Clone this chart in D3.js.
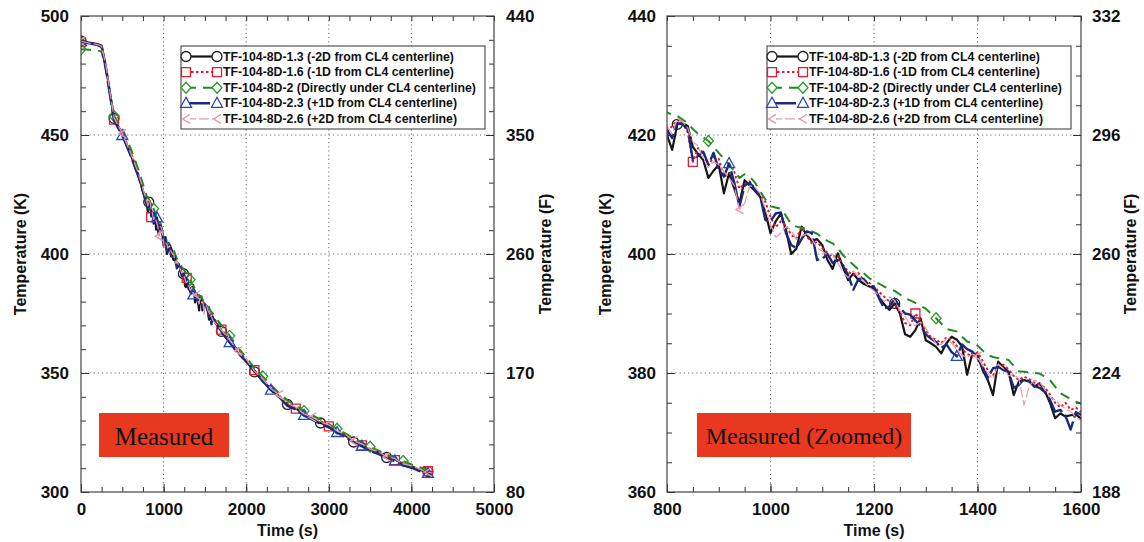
<!DOCTYPE html>
<html><head><meta charset="utf-8">
<script src="https://cdn.jsdelivr.net/npm/d3@7"></script>
<style>body{margin:0;background:#fff}svg{display:block}</style>
</head><body>
<svg id="c" width="1144" height="542"></svg>
<script>
// ---------------- DATA ----------------
const times = [0,100,200,250,300,400,500,600,700,
  800,810,820,830,840,850,860,870,880,890,900,910,920,930,940,950,960,970,980,990,1000,
  1010,1020,1030,1040,1050,1060,1070,1080,1090,1100,1110,1120,1130,1140,1150,1160,1170,1180,1190,1200,
  1210,1220,1230,1240,1250,1260,1270,1280,1290,1300,1310,1320,1330,1340,1350,1360,1370,1380,1390,1400,
  1410,1420,1430,1440,1450,1460,1470,1480,1490,1500,1510,1520,1530,1540,1550,1560,1570,1580,1590,1600,
  1700,1800,1900,2000,2100,2200,2300,2400,2500,2600,2700,2800,2900,3000,3100,3200,3300,3400,3500,3600,
  3700,3800,3900,4000,4100,4200,4250];

const T_1_3 = [489.5,488.8,488.2,487.6,479.0,457.0,450.2,442.0,432.5,
  420.0,417.5,421.8,422.0,421.5,418.0,416.8,415.8,412.8,414.0,415.0,410.2,413.6,411.0,408.6,412.4,411.5,410.6,409.6,407.0,403.5,
  405.5,406.8,404.0,400.0,400.9,404.6,403.2,402.2,402.5,401.5,399.0,397.5,400.1,397.8,395.6,396.7,395.6,395.0,394.6,394.2,
  392.8,391.5,390.6,391.7,390.0,386.5,386.1,387.2,389.2,385.5,385.0,384.4,383.3,385.0,386.1,385.6,384.5,379.7,383.3,383.0,
  380.5,378.8,376.3,381.9,381.0,380.2,376.3,378.6,378.8,378.6,377.7,378.3,377.0,375.0,372.4,373.2,372.7,372.9,373.0,372.4,
  367.5,363.0,358.8,355.2,350.5,347.2,343.0,340.2,336.8,335.2,332.5,331.0,329.0,327.8,325.2,323.8,321.0,319.8,317.6,316.8,
  314.5,313.8,311.6,310.8,309.2,308.6,308.2];

const T_1_6 = [489.0,488.5,488.0,487.2,478.5,456.5,451.0,443.0,433.0,
  420.5,421.5,422.5,422.0,420.5,415.5,417.8,417.0,415.0,416.2,416.0,413.0,413.5,413.8,411.0,411.8,412.2,411.0,410.0,408.8,406.2,
  404.5,405.5,404.8,403.2,402.6,404.5,403.0,401.8,402.0,401.0,400.2,399.5,399.8,398.2,397.0,396.5,396.8,395.6,395.2,394.5,
  393.6,392.8,392.0,391.5,390.2,388.4,388.0,390.0,388.8,387.2,386.0,385.6,385.0,386.0,385.6,384.5,384.0,383.2,382.8,383.5,
  382.0,380.5,379.6,381.2,381.4,380.6,379.5,378.8,379.4,379.0,378.4,378.0,377.6,376.4,375.0,374.2,375.0,373.8,374.2,373.5,
  368.2,364.0,359.6,355.6,351.2,347.0,343.8,340.6,337.5,335.0,333.2,330.8,329.8,327.6,326.0,323.5,321.8,319.6,318.2,316.4,
  315.2,313.4,312.2,310.6,309.6,308.8,308.5];

const T_2 = [486.0,485.8,485.5,485.0,477.5,458.0,452.5,444.5,435.0,
  423.8,423.4,423.2,422.6,422.0,421.0,420.2,419.6,419.0,418.0,417.0,416.0,415.0,414.0,412.8,413.4,413.0,412.0,410.5,409.2,408.0,
  407.8,407.6,406.4,405.0,404.6,404.4,404.2,403.8,403.4,402.8,402.2,401.8,401.0,399.8,399.0,398.2,397.4,396.8,396.0,395.4,
  395.0,394.5,394.1,393.8,393.2,392.6,392.2,391.8,391.3,390.8,390.0,389.2,388.3,387.4,387.2,387.0,386.1,385.3,385.0,384.6,
  383.8,383.0,382.7,382.5,382.4,382.2,381.2,380.3,380.2,380.1,380.0,379.9,379.4,378.8,377.7,376.6,376.1,375.6,375.2,374.8,
  370.0,365.6,360.8,356.5,352.2,348.6,344.8,341.5,338.5,336.4,334.0,332.2,330.4,328.5,326.6,324.6,322.6,320.8,319.0,317.4,
  315.8,314.4,313.0,311.6,310.4,309.4,309.0];

const T_2_3 = [489.2,488.5,487.8,487.0,478.0,456.0,449.8,441.5,432.0,
  420.8,419.5,422.0,421.8,421.0,415.8,416.5,417.2,415.0,417.0,414.2,413.0,415.2,412.0,408.0,411.5,412.0,410.8,409.8,405.7,405.5,
  406.8,407.0,403.5,401.5,401.0,402.5,403.8,403.5,399.0,399.2,400.0,398.5,399.0,398.0,396.5,394.0,395.8,395.8,394.8,394.5,
  392.5,390.8,391.2,392.5,391.0,390.0,389.8,388.8,388.0,386.5,385.8,385.2,384.2,384.8,383.5,382.8,384.8,384.0,383.6,382.5,
  381.0,379.2,380.8,381.0,380.5,380.2,377.5,378.0,379.0,378.6,377.8,377.5,376.8,375.5,373.5,373.8,372.8,370.5,373.4,373.0,
  367.2,362.8,358.4,354.8,350.8,346.6,342.8,339.8,336.2,334.6,332.2,330.4,328.6,327.2,325.0,323.2,320.8,319.2,317.2,316.0,
  314.2,313.0,311.2,310.2,308.8,307.8,307.6];

const T_2_6 = [489.4,488.6,488.0,487.4,479.5,457.2,450.6,442.6,433.4,
  421.5,420.2,422.8,422.2,421.2,418.8,418.2,416.0,414.5,415.5,415.0,413.8,412.8,411.5,407.5,408.5,411.5,411.2,410.2,407.5,405.0,
  402.8,403.5,404.6,404.0,402.5,403.0,403.4,402.5,401.0,400.5,399.8,400.0,398.5,397.0,396.0,397.2,396.2,395.5,394.5,393.8,
  393.0,392.0,392.8,392.2,390.5,389.5,388.2,388.0,388.6,387.5,386.2,385.0,384.8,385.8,385.0,384.0,383.0,382.6,383.2,382.8,
  381.2,380.0,379.0,381.5,380.8,379.5,379.8,379.0,374.6,377.8,378.8,378.5,377.2,376.0,375.5,374.6,374.0,373.5,372.6,372.0,
  368.0,363.8,359.2,355.8,350.8,347.5,343.4,340.8,337.2,335.6,332.8,331.4,329.4,328.2,325.6,324.2,321.4,320.2,318.0,317.0,
  314.8,314.0,311.8,311.0,309.6,308.4,308.0];

// times at which a marker symbol is drawn, per series
const M_1_3 = [0,400,820,1240,1700,2100,2500,2900,3300,3700,4200];
const M_1_6 = [0,400,850,1280,1700,2100,2600,3000,3400,3800,4200];
const M_2   = [0,400,880,1320,1800,2200,2700,3100,3500,3900];
const M_2_3 = [0,500,920,1360,1800,2300,2700,3100,3400,3800,4200];
const M_2_6 = [0,500,940,1400,1900,2400,2800,3300,3700,4200];

const seriesLabels = [
  "TF-104-8D-1.3 (-2D from CL4 centerline)",
  "TF-104-8D-1.6 (-1D from CL4 centerline)",
  "TF-104-8D-2 (Directly under CL4 centerline)",
  "TF-104-8D-2.3 (+1D from CL4 centerline)",
  "TF-104-8D-2.6 (+2D from CL4 centerline)"
];

// tick labels
const leftXTicks  = [0,1000,2000,3000,4000,5000];
const leftKTicks  = [300,350,400,450,500];
const leftFTicks  = [80,170,260,350,440];
const rightXTicks = [800,1000,1200,1400,1600];
const rightKTicks = [360,380,400,420,440];
const rightFTicks = [188,224,260,296,332];

// ---------------- STYLE ----------------
const styles = [
  {color:"#151515", mcolor:"#222",    width:2.2, dash:null,        marker:"circle"},
  {color:"#e21b30", mcolor:"#e21b30", width:2.0, dash:"2.5,2.5",   marker:"square"},
  {color:"#1f8c1f", mcolor:"#2c9a2c", width:2.0, dash:"10,7",      marker:"diamond"},
  {color:"#1a2a7a", mcolor:"#2346c0", width:2.4, dash:"24,4",      marker:"triangle"},
  {color:"#e79aae", mcolor:"#e79aae", width:1.2, dash:"10,3",      marker:"chevron"}
];
const series = [T_1_3, T_1_6, T_2, T_2_3, T_2_6];
const markerTimes = [M_1_3, M_1_6, M_2, M_2_3, M_2_6];

const symbolPath = {
  circle:  "M5,0A5,5 0 1,1 -5,0A5,5 0 1,1 5,0Z",
  square:  "M-4.5,-4.5H4.5V4.5H-4.5Z",
  diamond: "M0,-5.5L5,0L0,5.5L-5,0Z",
  triangle:"M0,-6L5.5,4L-5.5,4Z",
  chevron: "M4,-4.5L-3.5,0L4,4.5"
};

const svg = d3.select("#c");
const FONT = "'Liberation Sans', Arial, Helvetica, sans-serif";

const panels = [
  {id:"L", x0:81, x1:494, y0:16, y1:492, xDomain:[0,5000], kDomain:[300,500], fDomain:[80,440],
   xTicks:leftXTicks, kTicks:leftKTicks, fTicks:leftFTicks, xMinorStep:250, kMinorStep:10, fMinorStep:18,
   kPad:12, fPad:12, kTitleX:20, fTitleX:545,
   legend:{x:181, y:46, w:304, h:83},
   box:{x:99, y:413, w:130, h:44, text:"Measured", size:25}},
  {id:"R", x0:667, x1:1081, y0:16, y1:492, xDomain:[800,1600], kDomain:[360,440], fDomain:[188,332],
   xTicks:rightXTicks, kTicks:rightKTicks, fTicks:rightFTicks, xMinorStep:50, kMinorStep:5, fMinorStep:9,
   kPad:11, fPad:11, kTitleX:605, fTitleX:1130,
   legend:{x:767, y:46, w:304, h:83},
   box:{x:697, y:413, w:214, h:44, text:"Measured (Zoomed)", size:24}}
];

panels.forEach(cfg => {
  const x = d3.scaleLinear().domain(cfg.xDomain).range([cfg.x0, cfg.x1]);
  const y = d3.scaleLinear().domain(cfg.kDomain).range([cfg.y1, cfg.y0]);
  const f = d3.scaleLinear().domain(cfg.fDomain).range([cfg.y1, cfg.y0]);
  const g = svg.append("g");

  g.append("clipPath").attr("id","clip"+cfg.id)
    .append("rect").attr("x",cfg.x0).attr("y",cfg.y0)
    .attr("width",cfg.x1-cfg.x0).attr("height",cfg.y1-cfg.y0);

  // grid
  const grid = g.append("g").attr("stroke","#6a6a6a").attr("stroke-width",1).attr("stroke-dasharray","1.2,3");
  grid.selectAll(".gx").data(cfg.xTicks.slice(1,-1)).join("line")
    .attr("x1",d=>x(d)).attr("x2",d=>x(d)).attr("y1",cfg.y0).attr("y2",cfg.y1);
  grid.selectAll(".gy").data(cfg.kTicks.slice(1,-1)).join("line")
    .attr("y1",d=>y(d)).attr("y2",d=>y(d)).attr("x1",cfg.x0).attr("x2",cfg.x1);

  // data lines
  const plot = g.append("g").attr("clip-path","url(#clip"+cfg.id+")");
  const line = d3.line().x(d=>x(d.t)).y(d=>y(d.v));
  series.forEach((vals, si) => {
    const st = styles[si];
    const pts = times.map((t,i)=>({t, v:vals[i]}));
    plot.append("path").datum(pts).attr("d",line)
      .attr("fill","none").attr("stroke",st.color).attr("stroke-width",st.width)
      .attr("stroke-linejoin","round")
      .attr("stroke-dasharray",st.dash);
    const mk = markerTimes[si].map(t => ({t, v: vals[times.indexOf(t)]}));
    plot.selectAll(null).data(mk).join("path")
      .attr("d",symbolPath[st.marker])
      .attr("transform",d=>`translate(${x(d.t)},${y(d.v)})`)
      .attr("fill","none").attr("stroke",st.mcolor).attr("stroke-width",1.3);
  });

  // axes (ticks inward)
  const minor = (dom, step) => d3.range(dom[0], dom[1]+step/2, step);
  const tickFont = sel => sel.selectAll("text").attr("font-family",FONT).attr("font-weight","bold")
      .attr("font-size",17).attr("fill","#111");
  const clean = sel => { sel.select(".domain").remove(); sel.selectAll("line").attr("stroke","#333"); };

  g.append("g").attr("transform",`translate(0,${cfg.y1})`)
    .call(d3.axisBottom(x).tickValues(cfg.xTicks).tickSize(-8).tickPadding(11).tickFormat(d3.format("d")))
    .call(clean).call(tickFont);
  g.append("g").attr("transform",`translate(0,${cfg.y1})`)
    .call(d3.axisBottom(x).tickValues(minor(cfg.xDomain,cfg.xMinorStep)).tickSize(-5).tickFormat(""))
    .call(clean);
  g.append("g").attr("transform",`translate(0,${cfg.y0})`)
    .call(d3.axisTop(x).tickValues(minor(cfg.xDomain,cfg.xMinorStep)).tickSize(-5).tickFormat(""))
    .call(clean);
  g.append("g").attr("transform",`translate(${cfg.x0},0)`)
    .call(d3.axisLeft(y).tickValues(cfg.kTicks).tickSize(-8).tickPadding(cfg.kPad).tickFormat(d3.format("d")))
    .call(clean).call(tickFont);
  g.append("g").attr("transform",`translate(${cfg.x0},0)`)
    .call(d3.axisLeft(y).tickValues(minor(cfg.kDomain,cfg.kMinorStep)).tickSize(-5).tickFormat(""))
    .call(clean);
  g.append("g").attr("transform",`translate(${cfg.x1},0)`)
    .call(d3.axisRight(f).tickValues(cfg.fTicks).tickSize(-8).tickPadding(cfg.fPad).tickFormat(d3.format("d")))
    .call(clean).call(tickFont);
  g.append("g").attr("transform",`translate(${cfg.x1},0)`)
    .call(d3.axisRight(f).tickValues(minor(cfg.fDomain,cfg.fMinorStep)).tickSize(-5).tickFormat(""))
    .call(clean);

  // frame
  g.append("rect").attr("x",cfg.x0).attr("y",cfg.y0).attr("width",cfg.x1-cfg.x0).attr("height",cfg.y1-cfg.y0)
    .attr("fill","none").attr("stroke","#444").attr("stroke-width",1.2);

  // axis titles
  const title = (tx, ty, rot, txt) => g.append("text")
    .attr("transform",`translate(${tx},${ty}) rotate(${rot})`)
    .attr("text-anchor","middle").attr("dominant-baseline","central")
    .attr("font-family",FONT).attr("font-weight","bold").attr("font-size",16).attr("fill","#111").text(txt);
  title((cfg.x0+cfg.x1)/2, 530, 0, "Time (s)");
  title(cfg.kTitleX, (cfg.y0+cfg.y1)/2, -90, "Temperature (K)");
  title(cfg.fTitleX, (cfg.y0+cfg.y1)/2, -90, "Temperature (F)");

  // legend
  const L = cfg.legend;
  const lg = g.append("g");
  lg.append("rect").attr("x",L.x).attr("y",L.y).attr("width",L.w).attr("height",L.h)
    .attr("fill","#fff").attr("stroke","#333").attr("stroke-width",1);
  seriesLabels.forEach((lab, si) => {
    const st = styles[si];
    const ry = L.y + 10.5 + si*15.6;
    lg.append("line").attr("x1",L.x+5).attr("x2",L.x+36).attr("y1",ry).attr("y2",ry)
      .attr("stroke",st.color).attr("stroke-width",st.width).attr("stroke-dasharray",st.dash);
    [L.x+5, L.x+36].forEach(mx => lg.append("path").attr("d",symbolPath[st.marker])
      .attr("transform",`translate(${mx},${ry})`).attr("fill","#fff")
      .attr("stroke",st.mcolor).attr("stroke-width",1.3));
    lg.append("text").attr("x",L.x+42).attr("y",ry).attr("dominant-baseline","central")
      .attr("font-family",FONT).attr("font-weight","bold").attr("font-size",12.3).attr("fill","#111").text(lab);
  });

  // red label box
  const B = cfg.box;
  g.append("rect").attr("x",B.x).attr("y",B.y).attr("width",B.w).attr("height",B.h).attr("fill","#e8381f");
  g.append("text").attr("x",B.x+B.w/2).attr("y",B.y+B.h/2+1).attr("text-anchor","middle")
    .attr("dominant-baseline","central").attr("font-family","'Liberation Serif','Times New Roman',serif")
    .attr("font-size",B.size).attr("fill","#111").text(B.text);
});
</script>
</body></html>
